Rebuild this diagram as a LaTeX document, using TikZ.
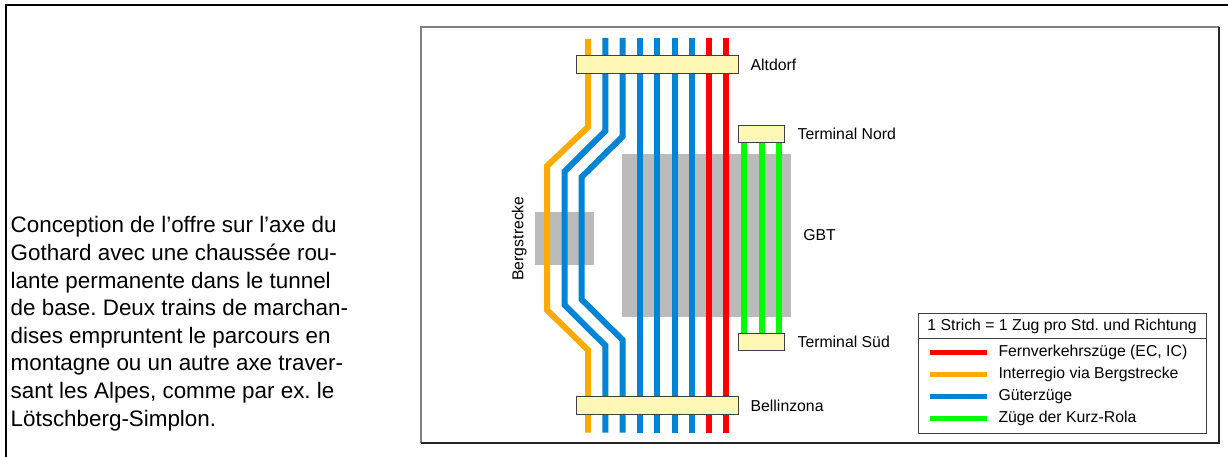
\documentclass[tikz,border=0pt]{standalone}
\usepackage{fontspec}
\setmainfont{Liberation Sans}
\usetikzlibrary{positioning,calc}
\definecolor{trackred}{RGB}{255,0,0}
\definecolor{trackorange}{RGB}{255,170,0}
\definecolor{trackblue}{RGB}{0,132,214}
\definecolor{trackgreen}{RGB}{0,255,0}
\definecolor{tunnelgray}{RGB}{187,187,187}
\definecolor{stationfill}{RGB}{255,247,181}

\begin{document}
\frenchspacing
\begin{tikzpicture}[x=1pt,y=-1pt,
  stn/.style={draw=black!75,line width=0.9pt,fill=stationfill,inner sep=0pt},
  trk/.style={line width=6pt},
  tun/.style={fill=tunnelgray,inner sep=0pt},
  lbl/.style={font=\fontsize{15.8}{19}\selectfont,inner sep=0pt},
  key/.style={minimum width=57pt,minimum height=5pt,inner sep=0pt}]
  \useasboundingbox (0,0) rectangle (1228,457);
  % frames
  \draw[line width=2pt] (6,457) -- (6,5) -- (1228,5);
  \draw[black!50,line width=1.2pt] (421,443) -- (421,27) -- (1219,27);
  \draw[black!85,line width=1.2pt] (1219,27) -- (1219,443) -- (421,443);

  % description
  \node[anchor=north west,align=left,inner sep=0pt,
        font=\fontsize{22.4}{27.6}\selectfont] (desc) at (10.5,216.5)
    {Conception de l’offre sur l’axe du\\
     Gothard avec une chaussée rou-\\
     lante permanente dans le tunnel\\
     de base. Deux trains de marchan-\\
     dises empruntent le parcours en\\
     montagne ou un autre axe traver-\\
     sant les Alpes, comme par ex. le\\
     Lötschberg-Simplon.};

  % tunnels
  \node[tun,minimum width=169pt,minimum height=163pt] (gbt) at (706.5,235.5) {};
  \node[tun,minimum width=59pt,minimum height=53pt] (berg) at (564.5,238.5) {};
  \node[lbl,right=12pt of gbt] (gbtlbl) {GBT};
  \node[lbl,rotate=90,anchor=south] (berglbl) at ($(berg.west)+(-8,0)$) {Bergstrecke};

  % tracks
  \foreach \x/\c in {639.9/trackblue,657.2/trackblue,674.5/trackblue,
                     691.8/trackblue,709.1/trackred,726.4/trackred}
    \draw[trk,\c] (\x,38) -- (\x,432.7);
  \draw[trk,trackorange] (588,39) -- (588,127) -- (547,166)
    -- (547,310) -- (588,350) -- (588,432.7);
  \draw[trk,trackblue] (605.3,38) -- (605.3,131) -- (564.5,171.5)
    -- (564.5,305) -- (605.3,345.5) -- (605.3,432.7);
  \draw[trk,trackblue] (622.6,38) -- (622.6,136.5) -- (581.7,177)
    -- (581.7,299.5) -- (622.6,340) -- (622.6,432.7);

  % stations
  \node[stn,minimum width=162pt,minimum height=17.5pt] (altdorf) at (657,64.7) {};
  \node[stn,minimum width=162pt,minimum height=17.5pt] (bellinz) at (657,405.5) {};
  \node[stn,minimum width=46.5pt,minimum height=17.3pt] (nord) at (761.2,133.7) {};
  \node[stn,minimum width=46.5pt,minimum height=17.3pt] (sued) at (761.2,342) {};
  \node[lbl,right=12pt of altdorf] (altlbl) {Altdorf};
  \node[lbl,right=12pt of bellinz] (bellbl) {Bellinzona};
  \node[lbl,right=12.5pt of nord] (nordlbl) {Terminal Nord};
  \node[lbl,right=12.5pt of sued] (suedlbl) {Terminal Süd};
  \foreach \dx in {-16.9,1.1,17.8}
    \draw[trk,trackgreen] ([xshift=\dx pt]nord.south) -- ([xshift=\dx pt]sued.north);

  % legend
  \node[draw=black!75,line width=0.9pt,minimum width=288pt,minimum height=120pt,
        inner sep=0pt] (legend) at (1062,373) {};
  \node[lbl] (legtitle) at (1062,326.3) {1 Strich = 1 Zug pro Std. und Richtung};
  \draw[black!75,line width=0.9pt] ($(legend.north west)+(0,26.3)$)
    -- ($(legend.north east)+(0,26.3)$);
  \foreach \c/\t [count=\i] in {trackred/{Fernverkehrszüge (EC, IC)},
                                trackorange/{Interregio via Bergstrecke},
                                trackblue/{Güterzüge},
                                trackgreen/{Züge der Kurz-Rola}}{
    \node[key,fill=\c] (key\i) at (958.6,{352.7+21.9*(\i-1)}) {};
    \node[lbl,right=11pt of key\i] (keylbl\i) {\t};
  }
\end{tikzpicture}
\end{document}
